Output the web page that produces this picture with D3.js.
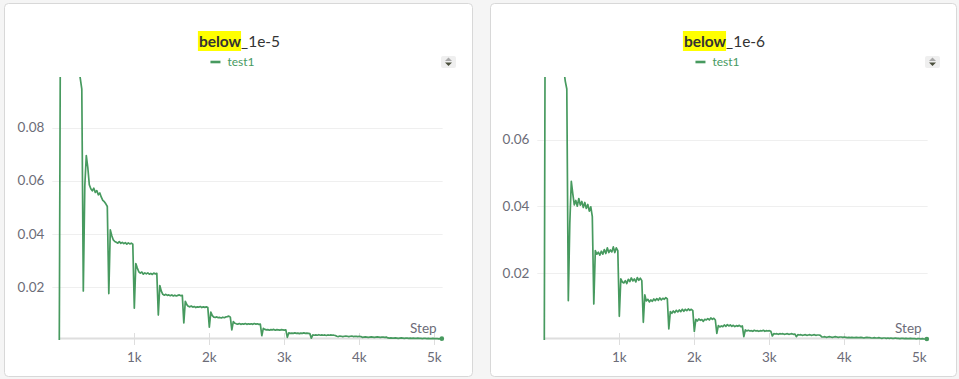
<!DOCTYPE html>
<html><head><meta charset="utf-8">
<script src="https://cdn.jsdelivr.net/npm/d3@7"></script>
<style>
html,body{margin:0;padding:0;background:#f5f5f5;}
svg{display:block;}
</style></head><body>
<svg id="c" width="959" height="379"></svg>
<script>
// sampling interval of the series (steps between points)
const stepInterval = 20;

// below_1e-5 / test1, one value every 20 steps from step 0
const below1e5 = [
  0, 0.16, 0.205, 0.19, 0.178, 0.166, 0.155, 0.145, 0.136, 0.128, 0.12, 0.113, 0.107, 0.102, 0.0985, 0.0945,
  0.0185, 0.058, 0.0695, 0.065, 0.0585, 0.057, 0.0562, 0.0572, 0.0556, 0.0563, 0.0547, 0.0554, 0.0538, 0.0526, 0.0521, 0.0513,
  0.0503, 0.0175, 0.0415, 0.0393, 0.0377, 0.0371, 0.0368, 0.0365, 0.0371, 0.0364, 0.0368, 0.0363, 0.0367, 0.0361, 0.0366, 0.0362,
  0.0365, 0.0361, 0.0120, 0.0288, 0.0271, 0.0257, 0.0252, 0.0256, 0.0248, 0.0253, 0.0249, 0.0253, 0.0248, 0.0251, 0.0247, 0.0252,
  0.0249, 0.0251, 0.0094, 0.0205, 0.0184, 0.0172, 0.0169, 0.0172, 0.0168, 0.0170, 0.0167, 0.0170, 0.0166, 0.0169, 0.0166, 0.0168,
  0.0170, 0.0167, 0.0168, 0.0064, 0.0146, 0.0133, 0.0127, 0.0125, 0.0128, 0.0124, 0.0126, 0.0122, 0.0125, 0.0124, 0.0126, 0.0122,
  0.0125, 0.0123, 0.0125, 0.0122, 0.0048, 0.0105, 0.0092, 0.0086, 0.0085, 0.0087, 0.0084, 0.0085, 0.0083, 0.0086, 0.0084, 0.0087,
  0.0088, 0.0090, 0.0086, 0.0038, 0.0069, 0.0063, 0.0061, 0.0060, 0.0062, 0.0059, 0.0061, 0.0060, 0.0062, 0.0059, 0.0061, 0.0060,
  0.0061, 0.0059, 0.0062, 0.0060, 0.0061, 0.0059, 0.0060, 0.0016, 0.0044, 0.0040, 0.0038, 0.0039, 0.0037, 0.0039, 0.0038, 0.0040,
  0.0037, 0.0039, 0.0038, 0.0037, 0.0039, 0.0038, 0.0037, 0.0038, 0.0010, 0.0027, 0.0025, 0.0026, 0.0025, 0.0027, 0.0025, 0.0026,
  0.0024, 0.0026, 0.0025, 0.0027, 0.0025, 0.0026, 0.0025, 0.0024, 0.0007, 0.0019, 0.0018, 0.0019, 0.0018, 0.0020, 0.0018, 0.0019,
  0.0018, 0.0019, 0.0017, 0.0019, 0.0018, 0.0019, 0.0018, 0.0018, 0.0017, 0.0014, 0.0013, 0.0015, 0.0014, 0.0013, 0.0014, 0.0015,
  0.0014, 0.0013, 0.0014, 0.0015, 0.0013, 0.0014, 0.0014, 0.0013, 0.0014, 0.0013, 0.0010, 0.0011, 0.0012, 0.0011, 0.0010, 0.0011,
  0.0012, 0.0011, 0.0010, 0.0011, 0.0012, 0.0011, 0.0010, 0.0011, 0.0011, 0.0010, 0.0011, 0.0008, 0.0007, 0.0008, 0.0007, 0.0007,
  0.0008, 0.0007, 0.0006, 0.0007, 0.0008, 0.0007, 0.0006, 0.0007, 0.0007, 0.0006, 0.0007, 0.0006, 0.0007, 0.0006, 0.0006, 0.0007,
  0.0006, 0.0006, 0.0005, 0.0006, 0.0006, 0.0005, 0.0006, 0.0005, 0.0005, 0.0006, 0.0005, 0.0005, 0.0005, 0.0004, 0.0005, 0.0005
];

// below_1e-6 / test1, one value every 20 steps from step 0
const below1e6 = [
  0, 0.17, 0.2, 0.185, 0.17, 0.155, 0.142, 0.13, 0.119, 0.109, 0.1, 0.092, 0.086, 0.081, 0.0775, 0.0752,
  0.0118, 0.035, 0.0475, 0.0438, 0.0405, 0.0418, 0.0401, 0.0424, 0.0404, 0.0415, 0.0397, 0.0412, 0.0394, 0.0406, 0.0386, 0.0399,
  0.0370, 0.0108, 0.0268, 0.0257, 0.0263, 0.0254, 0.0266, 0.0257, 0.0271, 0.0259, 0.0276, 0.0262, 0.0270, 0.0264, 0.0279, 0.0262,
  0.0276, 0.0268, 0.0071, 0.0183, 0.0174, 0.0171, 0.0178, 0.0169, 0.0182, 0.0175, 0.0186, 0.0177, 0.0183, 0.0174, 0.0187, 0.0179,
  0.0185, 0.0178, 0.0053, 0.0135, 0.0117, 0.0122, 0.0114, 0.0120, 0.0116, 0.0123, 0.0118, 0.0124, 0.0119, 0.0126, 0.0120, 0.0125,
  0.0122, 0.0127, 0.0123, 0.0033, 0.0085, 0.0080, 0.0087, 0.0082, 0.0089, 0.0084, 0.0090, 0.0085, 0.0092, 0.0086, 0.0092, 0.0088,
  0.0093, 0.0089, 0.0092, 0.0088, 0.0026, 0.0062, 0.0057, 0.0063, 0.0059, 0.0061, 0.0056, 0.0062, 0.0060, 0.0064, 0.0060, 0.0066,
  0.0062, 0.0065, 0.0060, 0.0020, 0.0043, 0.0039, 0.0042, 0.0040, 0.0045, 0.0041, 0.0046, 0.0042, 0.0045, 0.0041, 0.0044, 0.0040,
  0.0043, 0.0041, 0.0044, 0.0040, 0.0042, 0.0010, 0.0030, 0.0027, 0.0029, 0.0027, 0.0028, 0.0026, 0.0029, 0.0027, 0.0028, 0.0026,
  0.0028, 0.0027, 0.0029, 0.0026, 0.0028, 0.0027, 0.0028, 0.0026, 0.0012, 0.0019, 0.0018, 0.0019, 0.0017, 0.0019, 0.0018, 0.0019,
  0.0017, 0.0018, 0.0019, 0.0017, 0.0018, 0.0019, 0.0017, 0.0018, 0.0010, 0.0016, 0.0015, 0.0016, 0.0014, 0.0015, 0.0016, 0.0014,
  0.0015, 0.0016, 0.0014, 0.0015, 0.0016, 0.0014, 0.0015, 0.0015, 0.0014, 0.0009, 0.0009, 0.0010, 0.0008, 0.0009, 0.0010, 0.0009,
  0.0008, 0.0009, 0.0010, 0.0009, 0.0008, 0.0009, 0.0009, 0.0008, 0.0009, 0.0008, 0.0007, 0.0008, 0.0007, 0.0008, 0.0007, 0.0007,
  0.0008, 0.0007, 0.0007, 0.0008, 0.0007, 0.0006, 0.0007, 0.0008, 0.0007, 0.0007, 0.0006, 0.0006, 0.0007, 0.0006, 0.0006, 0.0007,
  0.0006, 0.0005, 0.0006, 0.0006, 0.0005, 0.0006, 0.0005, 0.0006, 0.0005, 0.0005, 0.0006, 0.0005, 0.0005, 0.0004, 0.0005, 0.0005,
  0.0004, 0.0005, 0.0004, 0.0004, 0.0005, 0.0004, 0.0004, 0.0004, 0.0003, 0.0004, 0.0004, 0.0003, 0.0004, 0.0003, 0.0003, 0.0003
];

const titlesBold = ["below", "below"];
const titlesRest = ["_1e-5", "_1e-6"];
const seriesName = "test1";
const yTicks1e5 = [0.02, 0.04, 0.06, 0.08];
const yTicks1e6 = [0.02, 0.04, 0.06];
const xTicks = [1000, 2000, 3000, 4000, 5000];
const xTickLabels = ["1k", "2k", "3k", "4k", "5k"];
const xAxisLabel = "Step";
const stepMax = 5110;
const yMax1e5 = 0.0991;
const yMax1e6 = 0.0788;

const COLOR = "#479a5f";
const FONT = "'Source Sans Pro', Lato, 'Noto Sans', sans-serif";
const svg = d3.select("#c");

const panels = [
  {card: [4.5, 3.5, 468, 373], x0: 59.3, x1: 442.6, yMax: yMax1e5, values: below1e5, yTicks: yTicks1e5, bold: titlesBold[0], rest: titlesRest[0]},
  {card: [490.5, 3.5, 466, 373], x0: 544.3, x1: 927.6, yMax: yMax1e6, values: below1e6, yTicks: yTicks1e6, bold: titlesBold[1], rest: titlesRest[1]}
];

panels.forEach((p, pi) => {
  const [cx, cy, cw, ch] = p.card;
  const g = svg.append("g");
  g.append("rect").attr("x", cx).attr("y", cy).attr("width", cw).attr("height", ch)
    .attr("rx", 4).attr("fill", "#fff").attr("stroke", "#d8d8d8");

  const yTop = 77, yBot = 340;
  const x = d3.scaleLinear().domain([0, stepMax]).range([p.x0, p.x1]);
  const y = d3.scaleLinear().domain([0, p.yMax]).range([yBot, yTop]);

  // grid
  g.selectAll(".grid").data(p.yTicks).join("line")
    .attr("x1", p.x0 - 7).attr("x2", p.x1)
    .attr("y1", d => Math.round(y(d)) + 0.5).attr("y2", d => Math.round(y(d)) + 0.5)
    .attr("stroke", "#efefef");
  g.selectAll(".ytl").data(p.yTicks).join("text")
    .attr("x", p.x0 - 15).attr("y", d => y(d)).attr("dy", "0.35em")
    .attr("text-anchor", "end").attr("font-family", FONT).attr("font-size", 13.5)
    .attr("fill", "#6c6c78").text(d => d3.format(".2f")(d));

  // x axis
  g.append("line").attr("x1", p.x0).attr("x2", p.x1).attr("y1", 338.5).attr("y2", 338.5)
    .attr("stroke", "#dedede").attr("stroke-width", 2);
  g.selectAll(".xt").data(xTicks).join("line")
    .attr("x1", d => Math.round(x(d)) + 0.5).attr("x2", d => Math.round(x(d)) + 0.5)
    .attr("y1", 333).attr("y2", 345).attr("stroke", "#dedede");
  g.selectAll(".xtl").data(xTicks).join("text")
    .attr("x", d => x(d)).attr("y", 362).attr("text-anchor", "middle")
    .attr("font-family", FONT).attr("font-size", 13.5).attr("fill", "#6c6c78")
    .text((d, i) => xTickLabels[i]);
  g.append("text").attr("x", p.x1 - 6).attr("y", 333).attr("text-anchor", "end")
    .attr("font-family", FONT).attr("font-size", 13.5).attr("fill", "#6c6c78").text(xAxisLabel);

  // line
  const clipId = "clip" + pi;
  svg.append("clipPath").attr("id", clipId).append("rect")
    .attr("x", p.x0 - 2).attr("y", yTop).attr("width", p.x1 - p.x0 + 6).attr("height", yBot - yTop + 4);
  const line = d3.line().x((d, i) => x(i * stepInterval)).y(d => y(d));
  g.append("path").datum(p.values).attr("d", line).attr("clip-path", `url(#${clipId})`)
    .attr("fill", "none").attr("stroke", COLOR).attr("stroke-width", 1.7)
    .attr("stroke-linejoin", "round");
  const last = p.values.length - 1;
  g.append("circle").attr("cx", x(last * stepInterval)).attr("cy", y(p.values[last]))
    .attr("r", 2.3).attr("fill", COLOR);

  // title
  const mid = cx + cw / 2;
  const hl = g.append("rect").attr("fill", "#ffff00");
  const t = g.append("text").attr("y", 47).attr("font-family", FONT).attr("font-size", 15.5).attr("fill", "#333");
  const tb = t.append("tspan").attr("font-weight", "bold").text(p.bold);
  t.append("tspan").text(p.rest);
  const tw = t.node().getComputedTextLength();
  const bw = tb.node().getComputedTextLength();
  t.attr("x", mid - tw / 2 + 1);
  hl.attr("x", mid - tw / 2).attr("y", 31).attr("width", bw + 1).attr("height", 20);

  // legend
  const lg = g.append("g");
  const lt = lg.append("text").attr("x", 0).attr("y", 62).attr("dy", "0.35em")
    .attr("font-family", FONT).attr("font-size", 12).attr("fill", COLOR).text(seriesName);
  const lw = lt.node().getComputedTextLength();
  const total = 10 + 7 + lw;
  const lx = mid - total / 2 - 6;
  lt.attr("x", lx + 17);
  lg.append("line").attr("x1", lx).attr("x2", lx + 10).attr("y1", 62).attr("y2", 62)
    .attr("stroke", COLOR).attr("stroke-width", 2.6);

  // sort icon
  const ix = cx + cw - 31.5;
  g.append("rect").attr("x", ix).attr("y", 56).attr("width", 15).attr("height", 12).attr("rx", 2).attr("fill", "#efefef");
  g.append("path").attr("d", `M${ix + 4},61 L${ix + 7.5},57.5 L${ix + 11},61 Z`).attr("fill", "#a8a8a8");
  g.append("path").attr("d", `M${ix + 4},62.5 L${ix + 7.5},66 L${ix + 11},62.5 Z`).attr("fill", "#4a4f3c");
});
</script>
</body></html>
